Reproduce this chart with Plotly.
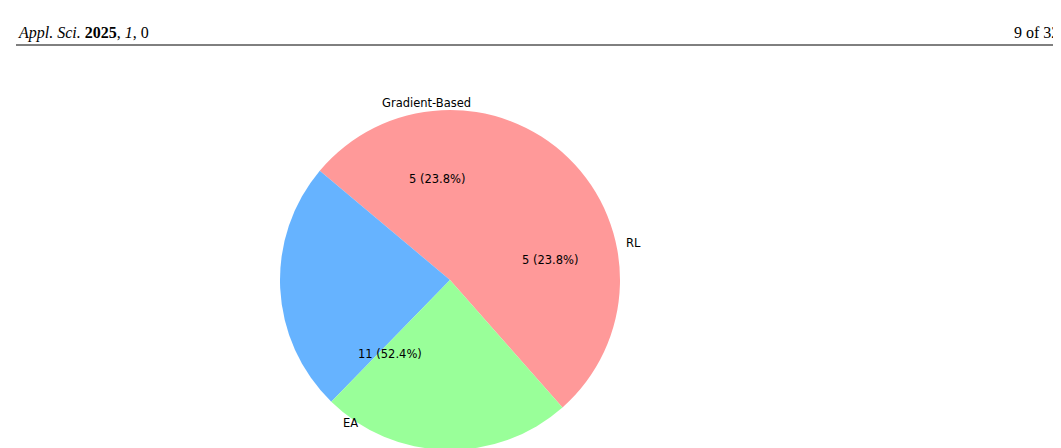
import math
import plotly.graph_objects as go

labels = ["EA", "RL", "Gradient-Based"]
values = [11, 5, 5]
colors = ["#ff9999", "#66b3ff", "#99ff99"]
start_angle = 140  # degrees ccw from east (matplotlib style)

W, H = 1061, 448
cx, cy, R = 442, 272, 170

fig = go.Figure(go.Pie(
    labels=labels, values=values, sort=False, direction="counterclockwise",
    rotation=-(start_angle - 90), marker=dict(colors=colors, line=dict(width=0)),
    textinfo="none", hoverinfo="label+value+percent", showlegend=False,
    domain=dict(x=[(cx - R) / W, (cx + R) / W], y=[1 - (cy + R) / H, 1 - (cy - R) / H]),
))

total = sum(values)
ann = []
acc = start_angle
for lab, v in zip(labels, values):
    span = 360 * v / total
    mid = math.radians(acc + span / 2)
    acc += span
    for r, txt in ((1.1, lab), (0.6, f"{v} ({100 * v / total:.1f}%)")):
        px = cx + r * R * math.cos(mid)
        py = cy - r * R * math.sin(mid)
        ann.append(dict(x=px / W, y=1 - py / H, xref="paper", yref="paper", text=txt,
                        showarrow=False, font=dict(family="DejaVu Sans", size=11.5, color="black")))

ann.append(dict(x=8 / W, y=1 - 14 / H, xref="paper", yref="paper", xanchor="left",
                text="<i>Appl. Sci.</i> <b>2025</b>, <i>1</i>, 0", showarrow=False,
                font=dict(family="Liberation Serif", size=16, color="black")))
ann.append(dict(x=1053 / W, y=1 - 14 / H, xref="paper", yref="paper", xanchor="right",
                text="9 of 32", showarrow=False,
                font=dict(family="Liberation Serif", size=16, color="black")))

fig.update_layout(
    width=W, height=H, margin=dict(l=0, r=0, t=0, b=0),
    paper_bgcolor="white", plot_bgcolor="white", annotations=ann,
    shapes=[dict(type="line", xref="paper", yref="paper", x0=8 / W, x1=1053 / W,
                 y0=1 - 37 / H, y1=1 - 37 / H, line=dict(color="black", width=1))],
)
fig.write_html("out.html")
